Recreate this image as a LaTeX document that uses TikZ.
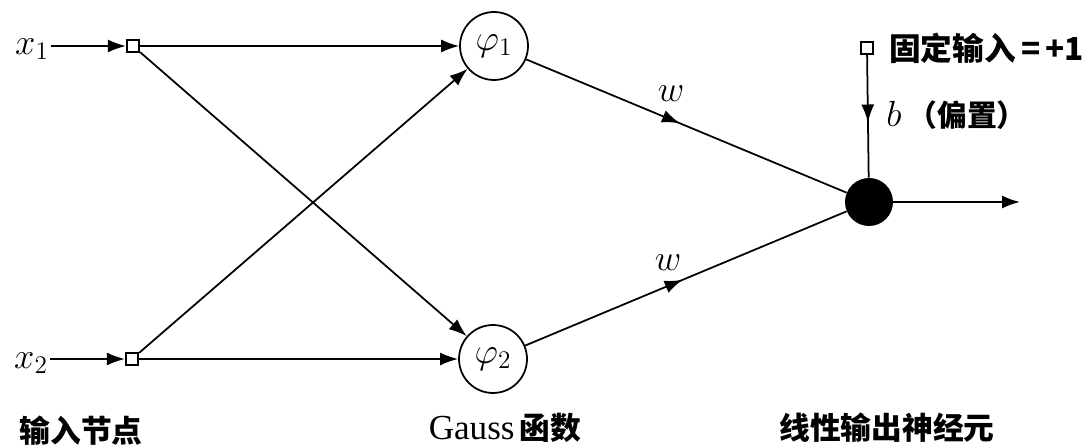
\documentclass[tikz,border=0pt]{standalone}
\usepackage{fontspec}
\newfontfamily\cjk{Noto Sans CJK SC}
\newfontfamily\tms{Liberation Serif}
\usepackage{tikz}
\usetikzlibrary{arrows.meta,positioning,calc,decorations.markings}
\tikzset{
  >={Latex[length=3.6mm,width=2.6mm]},
  inp/.style={draw,line width=1pt,minimum size=2.5mm,inner sep=0pt,fill=white},
  hid/.style={circle,draw,line width=1pt,minimum size=13.6mm,inner sep=0pt,font=\fontsize{20}{22}\selectfont},
  outn/.style={circle,fill=black,minimum size=9.6mm,inner sep=0pt},
  lab/.style={font=\fontsize{20}{22}\selectfont},
  caption/.style={font=\fontsize{17.5}{20}\selectfont\cjk\bfseries},
  tcaption/.style={font=\fontsize{18}{20}\selectfont\cjk\bfseries,anchor=west,inner sep=0pt},
  conn/.style={line width=1pt},
  arr/.style={conn,->},
  midarr/.style={conn,decoration={markings,mark=at position #1 with {\arrow{>}}},postaction={decorate}},
}
\begin{document}
\begin{tikzpicture}[x=0.02cm,y=-0.02cm]
\useasboundingbox (0,0) rectangle (1084,448);
% input layer
\node[lab,inner sep=1pt] (x1) at (32,49) {$x_1$};
\node[lab,inner sep=1pt] (x2) at (31,363) {$x_2$};
\node[inp] (s1) at (133,46) {};
\node[inp] (s2) at (132,359) {};
% hidden layer
\node[hid] (h1) at (494,46) {$\varphi_1$};
\node[hid] (h2) at (493,359) {$\varphi_2$};
% output
\node[outn] (o) at (869,202) {};
\node[inp] (sb) at (867,48) {};
\node[tcaption] (fix) at (889,48) {固定输入\,=\,+1};
\coordinate (y) at (1020,202);
\draw[arr] (x1.east|-s1) -- (s1);
\draw[arr] (x2.east|-s2) -- (s2);
\draw[arr] (s1) -- (h1);
\draw[arr] (s2) -- (h2);
\draw[arr] (s1) -- (h2);
\draw[arr] (s2) -- (h1);
\draw[midarr=0.48] (h1) -- (o);
\draw[midarr=0.49] (h2) -- (o);
\node[lab] (w1) at (671,94) {$w$};
\node[lab] (w2) at (668,263) {$w$};
\draw[midarr=0.55] (sb) -- (o);
\node[tcaption] (bias) at (886,115) {\fontsize{20}{22}\selectfont$b$\,{\cjk\fontsize{17}{20}\selectfont（偏置）}};
\draw[arr] (o) -- (y);
% captions
\node[caption] (c1) at (81,431) {输入节点};
\node[caption] (c2) at (505,428) {{\tms\mdseries\fontsize{20}{22}\selectfont Gauss}\,函数};
\node[caption] (c3) at (887,428) {线性输出神经元};
\end{tikzpicture}
\end{document}
